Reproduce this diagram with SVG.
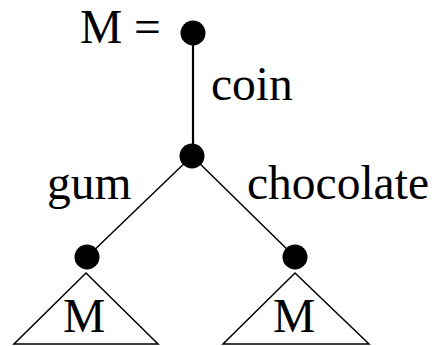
<svg xmlns="http://www.w3.org/2000/svg" width="448" height="346" viewBox="0 0 448 346">
<style>
text{font-family:"Liberation Serif","Times New Roman",serif;font-size:47.5px;fill:#000}
.dot{fill:#000}
.edge{stroke:#000;fill:none}
.tri{stroke:#000;stroke-width:1.5;fill:#fff}
</style>
<rect width="448" height="346" fill="#fff"/>
<g id="connectors">
<line class="edge" x1="193" y1="33" x2="193" y2="156" stroke-width="2.2"/>
<line class="edge" x1="192" y1="156" x2="87" y2="257" stroke-width="1.5"/>
<line class="edge" x1="192" y1="156" x2="295" y2="257" stroke-width="1.5"/>
</g>
<g id="labels">
<text x="80" y="43">M =</text>
<text x="211" y="100">coin</text>
<text x="47" y="199">gum</text>
<text x="247" y="199">chocolate</text>
</g>
<g id="root"><circle class="dot" cx="193" cy="33" r="12.5"/></g>
<g id="mid"><circle class="dot" cx="192" cy="156" r="12.5"/></g>
<g id="left">
<circle class="dot" cx="87" cy="257" r="12.5"/>
<polygon class="tri" points="86,273 14,344 158,344"/>
<text x="84" y="332" text-anchor="middle">M</text>
</g>
<g id="right">
<circle class="dot" cx="295" cy="257" r="12.5"/>
<polygon class="tri" points="295,273 223,344 369,344"/>
<text x="294" y="332" text-anchor="middle">M</text>
</g>
</svg>
